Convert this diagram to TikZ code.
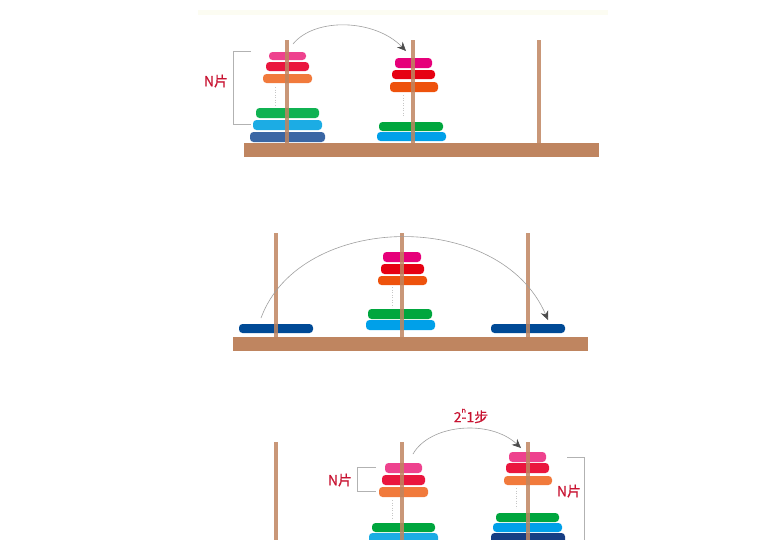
\documentclass[tikz,border=0pt]{standalone}
\usepackage{fontspec}
\newfontfamily\cjk{Noto Sans CJK SC}[FakeBold=0.6]
\usetikzlibrary{arrows.meta}
\definecolor{wood}{RGB}{191,133,96}
\definecolor{labred}{RGB}{200,20,50}
\definecolor{band}{RGB}{252,252,242}
% soft palette
\definecolor{sPink}{RGB}{238,66,142}
\definecolor{sRed}{RGB}{234,22,62}
\definecolor{sOrange}{RGB}{241,122,60}
\definecolor{sGreen}{RGB}{16,178,82}
\definecolor{sCyan}{RGB}{28,172,228}
\definecolor{sDark}{RGB}{58,102,164}
% strong palette
\definecolor{kPink}{RGB}{230,0,122}
\definecolor{kRed}{RGB}{230,0,18}
\definecolor{kOrange}{RGB}{238,82,12}
\definecolor{kGreen}{RGB}{0,166,62}
\definecolor{kCyan}{RGB}{0,160,233}
\definecolor{kDark}{RGB}{0,74,150}
\definecolor{bDark}{RGB}{22,62,132}
\tikzset{
  blk/.style={inner sep=0pt,outer sep=0pt,draw=none},
  diskst/.style={blk,rounded corners=3.5pt},
  pegst/.style={blk,fill=wood,fill opacity=0.85},
  basest/.style={blk,fill=wood},
  dotln/.style={draw=gray!45,dotted,line width=0.5pt},
  brk/.style={draw=gray!60,line width=0.6pt},
  arcst/.style={draw=gray!75,line width=0.6pt,-{Stealth[length=9pt,width=8pt,color=black!70]}},
  lab/.style={text=labred,font=\cjk\fontsize{14}{14}\selectfont,inner sep=0pt}
}
\newcommand\blk[7][]{\node[#7,#1,minimum width={(#4-#3)*1pt},minimum height={(#6-#5)*1pt}] (#2) at ({(#3+#4)/2},{(#5+#6)/2}) {};}
\begin{document}
\begin{tikzpicture}[x=1pt,y=-1pt]
\useasboundingbox (0,0) rectangle (772,539);
\begin{scope}
\clip (0,0) rectangle (772,539);
\fill[band] (198,10) rectangle (608,15);
% ================= Panel 1 =================
\blk{b1}{244}{599}{143}{157}{basest}
% left stack
\blk[fill=sPink]{p1l1}{269}{306}{52}{60}{diskst}
\blk[fill=sRed]{p1l2}{266}{309}{62}{71}{diskst}
\blk[fill=sOrange]{p1l3}{263}{312}{74}{83}{diskst}
\blk[fill=sGreen]{p1l4}{256}{319}{108}{118}{diskst}
\blk[fill=sCyan]{p1l5}{253}{322}{120}{130}{diskst}
\blk[fill=sDark]{p1l6}{250}{325}{132}{142}{diskst}
% middle stack
\blk[fill=kPink]{p1m1}{395}{432}{58}{68}{diskst}
\blk[fill=kRed]{p1m2}{392}{435}{70}{79}{diskst}
\blk[fill=kOrange]{p1m3}{390}{438}{82}{92}{diskst}
\blk[fill=kGreen]{p1m4}{379}{443}{122}{131}{diskst}
\blk[fill=kCyan]{p1m5}{377}{446}{132}{141}{diskst}
% pegs
\blk{g1a}{285}{289}{40}{143}{pegst}
\blk{g1b}{411}{415}{40}{143}{pegst}
\blk{g1c}{537}{541}{40}{143}{pegst}
% dotted
\coordinate (d1a) at (275,87); \coordinate (d1b) at (275,105);
\draw[dotln] (d1a) -- (d1b);
\coordinate (d1c) at (403,95); \coordinate (d1d) at (403,117);
\draw[dotln] (d1c) -- (d1d);
% bracket and label
\coordinate (k1a) at (251,51); \coordinate (k1b) at (251,124);
\draw[brk] (k1a) -- (233,51) -- (233,124) -- (k1b);
\node[lab] (n1) at (216,81) {N片};
% arrow
\coordinate (a1s) at (293,44); \coordinate (a1e) at (406,51);
\draw[arcst] (a1s) .. controls (315,17) and (375,19) .. (a1e);
% ================= Panel 2 =================
\blk{b2}{233}{588}{337}{351}{basest}
\blk[fill=kDark]{p2a}{239}{313}{324}{333}{diskst}
\blk[fill=kDark]{p2c}{491}{565}{324}{333}{diskst}
\blk[fill=kPink]{p2m1}{383}{421}{252}{262}{diskst}
\blk[fill=kRed]{p2m2}{381}{424}{264}{274}{diskst}
\blk[fill=kOrange]{p2m3}{378}{427}{276}{285}{diskst}
\blk[fill=kGreen]{p2m4}{368}{432}{309}{319}{diskst}
\blk[fill=kCyan]{p2m5}{366}{435}{320}{330}{diskst}
\blk{g2a}{274}{278}{233}{337}{pegst}
\blk{g2b}{400}{404}{233}{337}{pegst}
\blk{g2c}{526}{530}{233}{337}{pegst}
\coordinate (d2a) at (392,287); \coordinate (d2b) at (392,307);
\draw[dotln] (d2a) -- (d2b);
\coordinate (a2s) at (261,318); \coordinate (a2e) at (548,320);
\draw[arcst] (a2s) .. controls (300,212) and (500,208) .. (a2e);
% ================= Panel 3 =================
% middle stack
\blk[fill=sPink]{p3m1}{385}{422}{463}{473}{diskst}
\blk[fill=sRed]{p3m2}{382}{425}{475}{485}{diskst}
\blk[fill=sOrange]{p3m3}{379}{428}{487}{497}{diskst}
\blk[fill=kGreen]{p3m4}{372}{435}{523}{532}{diskst}
\blk[fill=sCyan]{p3m5}{369}{438}{533}{548}{diskst}
% right stack
\blk[fill=sPink]{p3r1}{509}{546}{452}{462}{diskst}
\blk[fill=sRed]{p3r2}{506}{549}{463}{473}{diskst}
\blk[fill=sOrange]{p3r3}{504}{552}{476}{485}{diskst}
\blk[fill=kGreen]{p3r4}{496}{559}{513}{522}{diskst}
\blk[fill=kCyan]{p3r5}{493}{562}{523}{532}{diskst}
\blk[fill=bDark]{p3r6}{491}{565}{533}{548}{diskst}
% pegs
\blk{g3a}{274}{278}{442}{560}{pegst}
\blk{g3b}{400}{404}{442}{560}{pegst}
\blk{g3c}{526}{530}{442}{560}{pegst}
% dotted
\coordinate (d3a) at (392,500); \coordinate (d3b) at (392,520);
\draw[dotln] (d3a) -- (d3b);
\coordinate (d3c) at (516,488); \coordinate (d3d) at (516,508);
\draw[dotln] (d3c) -- (d3d);
% brackets and labels
\coordinate (k3a) at (376,467); \coordinate (k3b) at (376,491);
\draw[brk] (k3a) -- (357,467) -- (357,491) -- (k3b);
\node[lab] (n3a) at (340,480) {N片};
\coordinate (k3c) at (567,457); \coordinate (k3d) at (584,560);
\draw[brk] (k3c) -- (584,457) -- (k3d);
\node[lab] (n3b) at (569,491) {N片};
\node[lab] (t3) at (471,416) {2\rlap{\raisebox{9.5pt}{\fontsize{7}{7}\selectfont n}}-1步};
\coordinate (a3s) at (413,454); \coordinate (a3e) at (521,448);
\draw[arcst] (a3s) .. controls (430,424) and (490,419) .. (a3e);
\end{scope}
\end{tikzpicture}
\end{document}
